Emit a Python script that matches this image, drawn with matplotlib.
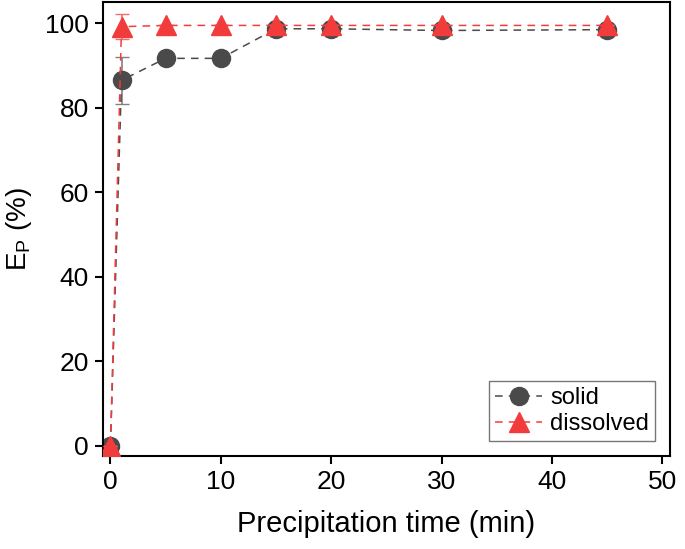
import matplotlib
matplotlib.use("Agg")
import matplotlib.pyplot as plt

plt.rcParams['font.family'] = ['Liberation Sans', 'DejaVu Sans']

time = [0, 1, 5, 10, 15, 20, 30, 45]
solid = [0, 86.5, 91.7, 91.7, 98.7, 98.7, 98.3, 98.5]
solid_err = [0, 5.5, 0, 0, 0, 0, 0, 0]
dissolved = [0, 99.2, 99.5, 99.5, 99.5, 99.5, 99.5, 99.5]
dissolved_err = [0, 3.0, 0, 0, 0, 0, 0, 0]

fig, ax = plt.subplots(figsize=(6.85, 5.49), dpi=100)
fig.subplots_adjust(left=0.15, right=0.978, top=0.996, bottom=0.17)

c1 = ax.errorbar(time, solid, yerr=solid_err, color="#4a4a4a", marker="o", markersize=13,
                 linestyle=(0, (5, 4)), linewidth=1.1, capsize=5, elinewidth=1.2,
                 ecolor="#808080", label="solid", zorder=2)
c2 = ax.errorbar(time, dissolved, yerr=dissolved_err, color="#f23c3c", marker="^", markersize=14,
                 linestyle=(0, (5, 4)), linewidth=1.1, capsize=5, elinewidth=1.2,
                 ecolor="#f07070", label="dissolved", zorder=3)

ax.set_xlim(-0.7, 50.7)
ax.set_ylim(-2.4, 105)
ax.set_xticks([0, 10, 20, 30, 40, 50])
ax.set_yticks([0, 20, 40, 60, 80, 100])
ax.tick_params(direction="out", length=6, width=1.5, labelsize=19, pad=4)
for s in ax.spines.values():
    s.set_linewidth(1.5)

ax.set_xlabel("Precipitation time (min)", fontsize=21, labelpad=12)
ax.set_ylabel(r"E$_\mathregular{P}$ (%)", fontsize=20, labelpad=8)

leg = ax.legend(handles=[c1[0], c2[0]], labels=["solid", "dissolved"], loc="lower right",
                fontsize=17, fancybox=False, edgecolor="#555555",
                handlelength=2.0, handletextpad=0.35, borderpad=0.25, labelspacing=0.15,
                borderaxespad=0, bbox_to_anchor=(0.974, 0.033))
leg.get_frame().set_linewidth(1.0)

fig.savefig("out.png")
